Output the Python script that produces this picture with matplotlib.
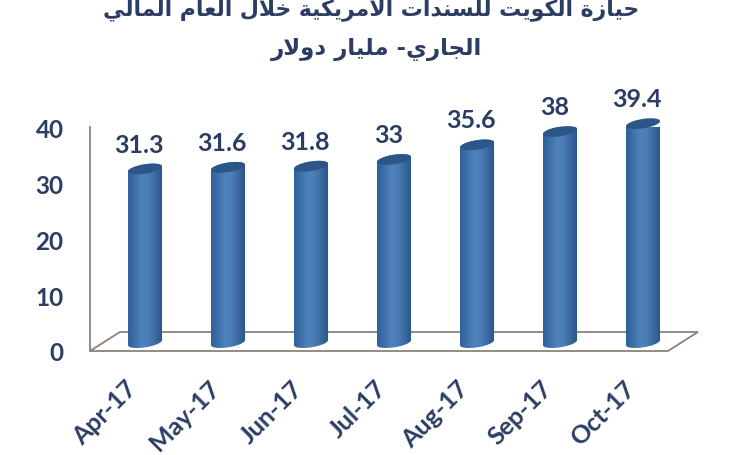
import numpy as np
import matplotlib
matplotlib.use('Agg')
import matplotlib.pyplot as plt
from matplotlib.patches import Polygon
from matplotlib.colors import LinearSegmentedColormap
from matplotlib.transforms import Affine2D

months = ['Apr-17', 'May-17', 'Jun-17', 'Jul-17', 'Aug-17', 'Sep-17', 'Oct-17']
holdings = [31.3, 31.6, 31.8, 33, 35.6, 38, 39.4]
value_labels = ['31.3', '31.6', '31.8', '33', '35.6', '38', '39.4']
y_ticks = [0, 10, 20, 30, 40]
title_line1 = 'حيازة الكويت للسندات الأمريكية خلال العام المالي'
title_line2 = 'الجاري- مليار دولار'

# isolated, final, initial, medial
FORMS = {
    'ء': 'ﺀ', 'أ': 'ﺃﺄ', 'ا': 'ﺍﺎ', 'ب': 'ﺏﺐﺑﺒ', 'ة': 'ﺓﺔ', 'ت': 'ﺕﺖﺗﺘ',
    'ج': 'ﺝﺞﺟﺠ', 'ح': 'ﺡﺢﺣﺤ', 'خ': 'ﺥﺦﺧﺨ', 'د': 'ﺩﺪ', 'ر': 'ﺭﺮ', 'ز': 'ﺯﺰ',
    'س': 'ﺱﺲﺳﺴ', 'ع': 'ﻉﻊﻋﻌ', 'ك': 'ﻙﻚﻛﻜ', 'ل': 'ﻝﻞﻟﻠ', 'م': 'ﻡﻢﻣﻤ',
    'ن': 'ﻥﻦﻧﻨ', 'ه': 'ﻩﻪﻫﻬ', 'و': 'ﻭﻮ', 'ي': 'ﻱﻲﻳﻴ',
}
LAM_ALEF = {'ا': 'ﻻﻼ', 'أ': 'ﻷﻸ'}


def shape(text):
    # matplotlib does no arabic shaping, so pick the joined glyphs by hand
    out = []
    i = 0
    joined = False
    while i < len(text):
        c = text[i]
        if c not in FORMS:
            out.append(c)
            joined = False
            i += 1
            continue
        if c == 'ل' and i + 1 < len(text) and text[i + 1] in LAM_ALEF:
            out.append(LAM_ALEF[text[i + 1]][1 if joined else 0])
            joined = False
            i += 2
            continue
        f = FORMS[c]
        nxt = text[i + 1] if i + 1 < len(text) else ''
        to_next = len(f) == 4 and nxt in FORMS
        if len(f) == 4:
            g = f[3] if joined and to_next else f[1] if joined else f[2] if to_next else f[0]
        elif len(f) == 2:
            g = f[1] if joined else f[0]
        else:
            g = f[0]
        out.append(g)
        joined = to_next
        i += 1
    return ''.join(out)[::-1]


text_color = '#2b3d63'
line_color = '#8c8279'
cap_color = '#2b5687'
bar_cmap = LinearSegmentedColormap.from_list('cyl', ['#30609a', '#3f70aa', '#4f81bb', '#4b7cb6', '#3a699f', '#2a5486'])

W, H = 742, 456
fig = plt.figure(figsize=(W / 100, H / 100), dpi=100)
fig.set_facecolor('white')
# axes box in pixels: left 90, right 668, y=0 at 352, y=40 at 128
ax = fig.add_axes([90 / W, (H - 352) / H, 578 / W, 224 / H])
ax.set_xlim(-0.663, 6.301)
ax.set_ylim(0, 40)
ax.patch.set_alpha(0)
for s in ax.spines.values():
    s.set_visible(False)

floor = 1.5       # bars stand this far behind the front edge
depth_x, depth_y = 0.361, 3.4
bar_w = 0.41
cap_h = 1.7
tilt = 0.9

# floor and wall line of the 3d chart
x0, x1 = ax.get_xlim()
ax.add_patch(Polygon([(x0, 0), (x1, 0), (x1 + depth_x, depth_y), (x0 + depth_x, depth_y)],
                     closed=True, fc='white', ec=line_color, lw=1.3, clip_on=False, zorder=1))
ax.plot([x0, x0], [0, 40], color=line_color, lw=1.3, clip_on=False, zorder=1)

t = np.linspace(0, 2 * np.pi, 80)
grad = np.linspace(0, 1, 64).reshape(1, -1)
for i, v in enumerate(holdings):
    top = v + floor - 0.3
    xs = i + bar_w / 2 * np.cos(t)
    lean = tilt * (xs - i) / (bar_w / 2) * 0.5
    low = t[t >= np.pi]
    up = t[t <= np.pi]
    outline = np.vstack([
        np.c_[i + bar_w / 2 * np.cos(up), top + tilt * 0.5 * np.cos(up) + cap_h / 2 * np.sin(up)],
        np.c_[i + bar_w / 2 * np.cos(low), floor + tilt * 0.5 * np.cos(low) + cap_h / 2 * np.sin(low)],
    ])
    body = Polygon(outline, closed=True, fc='none', ec='none', clip_on=False)
    ax.add_patch(body)
    im = ax.imshow(grad, cmap=bar_cmap, aspect='auto', zorder=2,
                   extent=(i - bar_w / 2, i + bar_w / 2, floor - 2, top + 2))
    im.set_clip_path(body)
    cap = np.c_[xs, top + lean + cap_h / 2 * np.sin(t)]
    ax.add_patch(Polygon(cap, closed=True, fc=cap_color, ec='none', zorder=3, clip_on=False))
    ax.text(i - 0.07, top + 2.4, value_labels[i], ha='center', va='bottom', fontsize=18,
            fontweight='bold', family='Lato', color=text_color, zorder=4)
ax.set_xlim(x0, x1)
ax.set_ylim(0, 40)

ax.set_yticks(y_ticks)
ax.set_xticks(range(len(months)))
ax.set_xticklabels(months, rotation=45, ha='right', rotation_mode='anchor')
ax.tick_params(axis='y', length=0, pad=19, labelsize=17.5, labelcolor=text_color)
ax.tick_params(axis='x', length=0, pad=18, labelsize=18, labelcolor=text_color)
for lab in ax.get_xticklabels() + ax.get_yticklabels():
    lab.set_family('Lato')
    lab.set_fontweight('bold')
for lab in ax.get_xticklabels():
    lab.set_transform(lab.get_transform() + Affine2D().translate(-20, 0))

fig.text(639 / W, 1 - 15 / H, shape(title_line1), ha='right', va='baseline', fontsize=15.8,
         fontweight='bold', family='DejaVu Sans', color=text_color)
fig.text(482 / W, 1 - 55 / H, shape(title_line2), ha='right', va='baseline', fontsize=16.5,
         fontweight='bold', family='DejaVu Sans', color=text_color)

plt.savefig('out.png', dpi=100)
